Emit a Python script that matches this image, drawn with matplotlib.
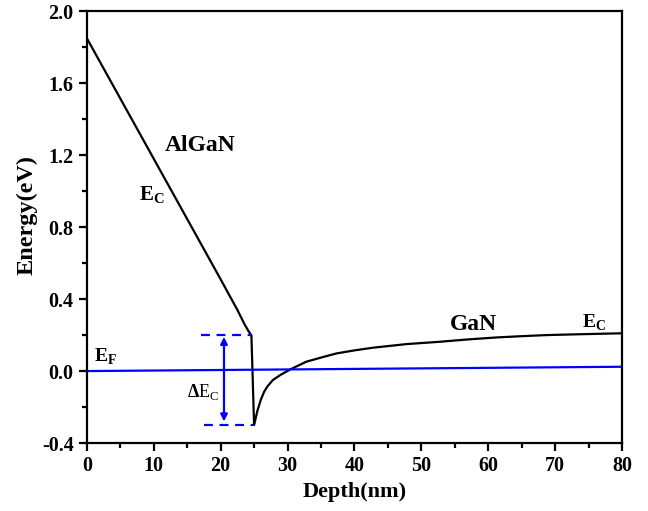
import numpy as np
import matplotlib.pyplot as plt

plt.rcParams['font.family'] = ['Liberation Serif', 'DejaVu Serif']
plt.rcParams['font.weight'] = 'bold'
plt.rcParams['mathtext.fontset'] = 'custom'
plt.rcParams['mathtext.rm'] = 'Liberation Serif'

# conduction band edge
ec_depth = [0, 5, 10, 15, 20, 22.5, 23.6, 24.2, 24.6, 25.0, 25.5, 26, 26.5, 27, 27.8, 29,
            30.4, 32.8, 35, 37.3, 40, 42.8, 47.8, 52.8, 57, 61.3, 65, 68.7, 74, 80]
ec_energy = [1.85, 1.515, 1.18, 0.845, 0.51, 0.34, 0.258, 0.22, 0.198, -0.3, -0.22, -0.16,
             -0.115, -0.085, -0.05, -0.02, 0.009, 0.052, 0.075, 0.098, 0.115, 0.13, 0.15,
             0.163, 0.176, 0.187, 0.194, 0.2, 0.205, 0.21]

# Fermi level
ef_depth = [0, 80]
ef_energy = [0.0, 0.024]

# band offset markers
dec_top = 0.2
dec_bottom = -0.3

fig = plt.figure(figsize=(6.48, 5.11), dpi=100)
ax = fig.add_axes([0.134, 0.133, 0.826, 0.845])

ax.plot(ec_depth, ec_energy, color='black', lw=1.6)
ax.plot(ef_depth, ef_energy, color='blue', lw=1.6)

ax.plot([17.0, 24.6], [dec_top, dec_top], color='blue', lw=1.6, ls=(0, (4, 3)))
ax.plot([17.5, 24.8], [dec_bottom, dec_bottom], color='blue', lw=1.6, ls=(0, (4, 3)))
ax.annotate('', xy=(20.5, dec_top - 0.01), xytext=(20.5, dec_bottom + 0.02),
            arrowprops=dict(arrowstyle='<|-|>', color='blue', lw=1.6,
                            mutation_scale=10, shrinkA=0, shrinkB=0))

ax.text(1.0, 0.02, r'E$_\mathregular{F}$', fontsize=14, ha='left', va='bottom')
ax.text(19.8, -0.115, r'$\Delta$E$_\mathregular{C}$', fontsize=13, ha='right', va='center',
        fontweight='normal')
ax.text(11.7, 1.255, 'AlGaN', fontsize=17, ha='left', va='center')
ax.text(7.8, 0.98, r'E$_\mathregular{C}$', fontsize=15, ha='left', va='center')
ax.text(54.3, 0.26, 'GaN', fontsize=17, ha='left', va='center')
ax.text(74.0, 0.27, r'E$_\mathregular{C}$', fontsize=14, ha='left', va='center')

ax.set_xlim(0, 80)
ax.set_ylim(-0.4, 2.0)
ax.set_xticks(np.arange(0, 81, 10))
ax.set_xticks(np.arange(5, 80, 10), minor=True)
ax.set_yticks(np.arange(-0.4, 2.01, 0.4))
ax.set_yticks(np.arange(-0.2, 2.0, 0.4), minor=True)
ax.set_yticklabels([f'{v:.1f}' for v in np.arange(-0.4, 2.01, 0.4)])
ax.tick_params(which='major', direction='out', length=6, width=1.6, labelsize=14.5)
ax.tick_params(which='minor', direction='out', length=3.5, width=1.6)
for s in ax.spines.values():
    s.set_linewidth(1.6)

ax.set_xlabel('Depth(nm)', fontsize=16, fontweight='bold', labelpad=4)
ax.set_ylabel('Energy(eV)', fontsize=17.5, fontweight='bold')
ax.yaxis.set_label_coords(-0.093, 0.528)

fig.savefig('out.png', dpi=100)
